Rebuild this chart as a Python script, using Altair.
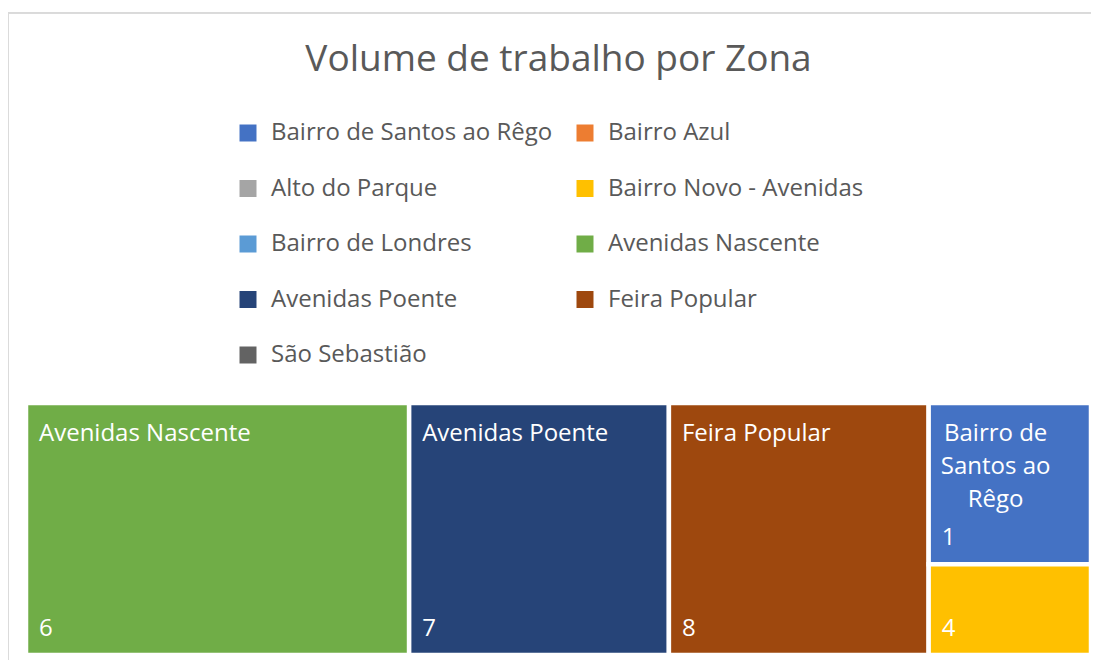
import altair as alt
import pandas as pd

# ---- data ----
zonas = [
    "Bairro de Santos ao Rêgo",
    "Bairro Azul",
    "Alto do Parque",
    "Bairro Novo - Avenidas",
    "Bairro de Londres",
    "Avenidas Nascente",
    "Avenidas Poente",
    "Feira Popular",
    "São Sebastião",
]
numero_zona = [1, 2, 3, 4, 5, 6, 7, 8, 9]
volume = [16, 0, 0, 9, 0, 59, 40, 40, 0]
cores = ["#4472C4", "#ED7D31", "#A5A5A5", "#FFC000", "#5B9BD5",
         "#70AD47", "#264478", "#9E480E", "#636363"]

TITLE = "Volume de trabalho por Zona"

# plot-area size (pixels) and style
W, H = 1065, 252
FONT = "Open Sans"
LABEL_SIZE = 24
LINE_H = 33
NAME_DY = 38
NUM_DY = -19


# ---- squarified treemap layout ----
def squarify(areas, x, y, w, h):
    out = []

    def worst(row, side):
        s = sum(row)
        return max(max(side * side * r / (s * s), (s * s) / (side * side * r)) for r in row)

    rem = list(areas)
    while rem:
        side = min(w, h)
        row = [rem[0]]
        i = 1
        while i < len(rem) and worst(row + [rem[i]], side) <= worst(row, side):
            row.append(rem[i])
            i += 1
        s = sum(row)
        if w >= h:
            cw = s / h
            cy = y
            for r in row:
                rh = r / cw
                out.append((x, cy, x + cw, cy + rh))
                cy += rh
            x += cw
            w -= cw
        else:
            rh = s / w
            cx = x
            for r in row:
                rw = r / rh
                out.append((cx, y, cx + rw, y + rh))
                cx += rw
            y += rh
            h -= rh
        rem = rem[len(row):]
    return out


items = [(z, n, v) for z, n, v in zip(zonas, numero_zona, volume) if v > 0]
items.sort(key=lambda t: -t[2])
total = sum(t[2] for t in items)
areas = [t[2] / total * W * H for t in items]
rects = squarify(areas, 0, 0, W, H)


def wrap(text, width_px, size):
    maxc = int((width_px - 26) / (0.5 * size))
    lines, cur = [], ""
    for word in text.split(" "):
        cand = (cur + " " + word).strip()
        if len(cand) <= maxc or not cur:
            cur = cand
        else:
            lines.append(cur)
            cur = word
    lines.append(cur)
    return lines


rows = []
for (z, n, v), (x0, y0, x1, y1) in zip(items, rects):
    lines = wrap(z, x1 - x0, LABEL_SIZE)
    longest = max(len(l) for l in lines)
    last_base = NAME_DY + (len(lines) - 1) * LINE_H
    fits = last_base + LINE_H <= (y1 - y0) + NUM_DY
    rows.append({
        "zona": z, "numero": str(n), "volume": v,
        "x0": x0, "x1": x1, "y0": y0, "y1": y1,
        "wrapped": len(lines) > 1,
        "fits": fits,
        "label": "\n".join(lines),
        "cx": x0 + 13 + longest * 0.5 * LABEL_SIZE / 2,
    })
df = pd.DataFrame(rows)

xs = alt.Scale(domain=[0, W], nice=False, zero=False)
ys = alt.Scale(domain=[0, H], nice=False, zero=False, reverse=True)

base = alt.Chart(df)

cells = base.mark_rect(stroke="white", strokeWidth=4.5).encode(
    x=alt.X("x0:Q", scale=xs, axis=None),
    x2="x1:Q",
    y=alt.Y("y0:Q", scale=ys, axis=None),
    y2="y1:Q",
    color=alt.Color(
        "zona:N",
        scale=alt.Scale(domain=zonas, range=cores),
        legend=alt.Legend(
            title=None, orient="none", legendX=210, legendY=-282,
            direction="horizontal", columns=2,
            symbolType="square", symbolSize=289,
            symbolStrokeWidth=0, symbolOpacity=1,
            labelFont=FONT, labelFontSize=LABEL_SIZE, labelColor="#595959",
            labelLimit=600, labelOffset=11, rowPadding=31.5, columnPadding=20,
            padding=0,
        ),
    ),
)

names = base.transform_filter("!datum.wrapped && datum.fits").mark_text(
    align="left", baseline="alphabetic", dx=13, dy=NAME_DY,
    font=FONT, fontSize=LABEL_SIZE, color="white",
).encode(x=alt.X("x0:Q", scale=xs), y=alt.Y("y0:Q", scale=ys), text="label:N")

names_wrapped = base.transform_filter("datum.wrapped && datum.fits").mark_text(
    align="center", baseline="alphabetic", dy=NAME_DY, lineHeight=LINE_H,
    font=FONT, fontSize=LABEL_SIZE, color="white", lineBreak="\n",
).encode(x=alt.X("cx:Q", scale=xs), y=alt.Y("y0:Q", scale=ys), text="label:N")

nums = base.mark_text(
    align="left", baseline="alphabetic", dx=13, dy=NUM_DY,
    font=FONT, fontSize=LABEL_SIZE, color="white",
).encode(x=alt.X("x0:Q", scale=xs), y=alt.Y("y1:Q", scale=ys), text="numero:N")

frame_left = alt.Chart(df).mark_rule(color="#d9d9d9", strokeWidth=1).encode(
    x=alt.value(-18), y=alt.value(-390), y2=alt.value(260))
frame_top = alt.Chart(df).mark_rule(color="#d9d9d9", strokeWidth=1).encode(
    x=alt.value(-18), x2=alt.value(1070), y=alt.value(-390))

chart = alt.layer(frame_left, frame_top, cells, names, names_wrapped, nums).properties(
    width=W, height=H,
    title=alt.TitleParams(
        TITLE, font=FONT, fontSize=37, fontWeight="normal", color="#595959",
        anchor="middle", frame="group", baseline="alphabetic", offset=-95,
    ),
    autosize=alt.AutoSizeParams(type="none"),
    padding={"left": 18, "top": 395, "right": 0, "bottom": 5},
).configure_view(stroke=None)

chart.save("out.html", embed_options={"renderer": "svg", "actions": False})
